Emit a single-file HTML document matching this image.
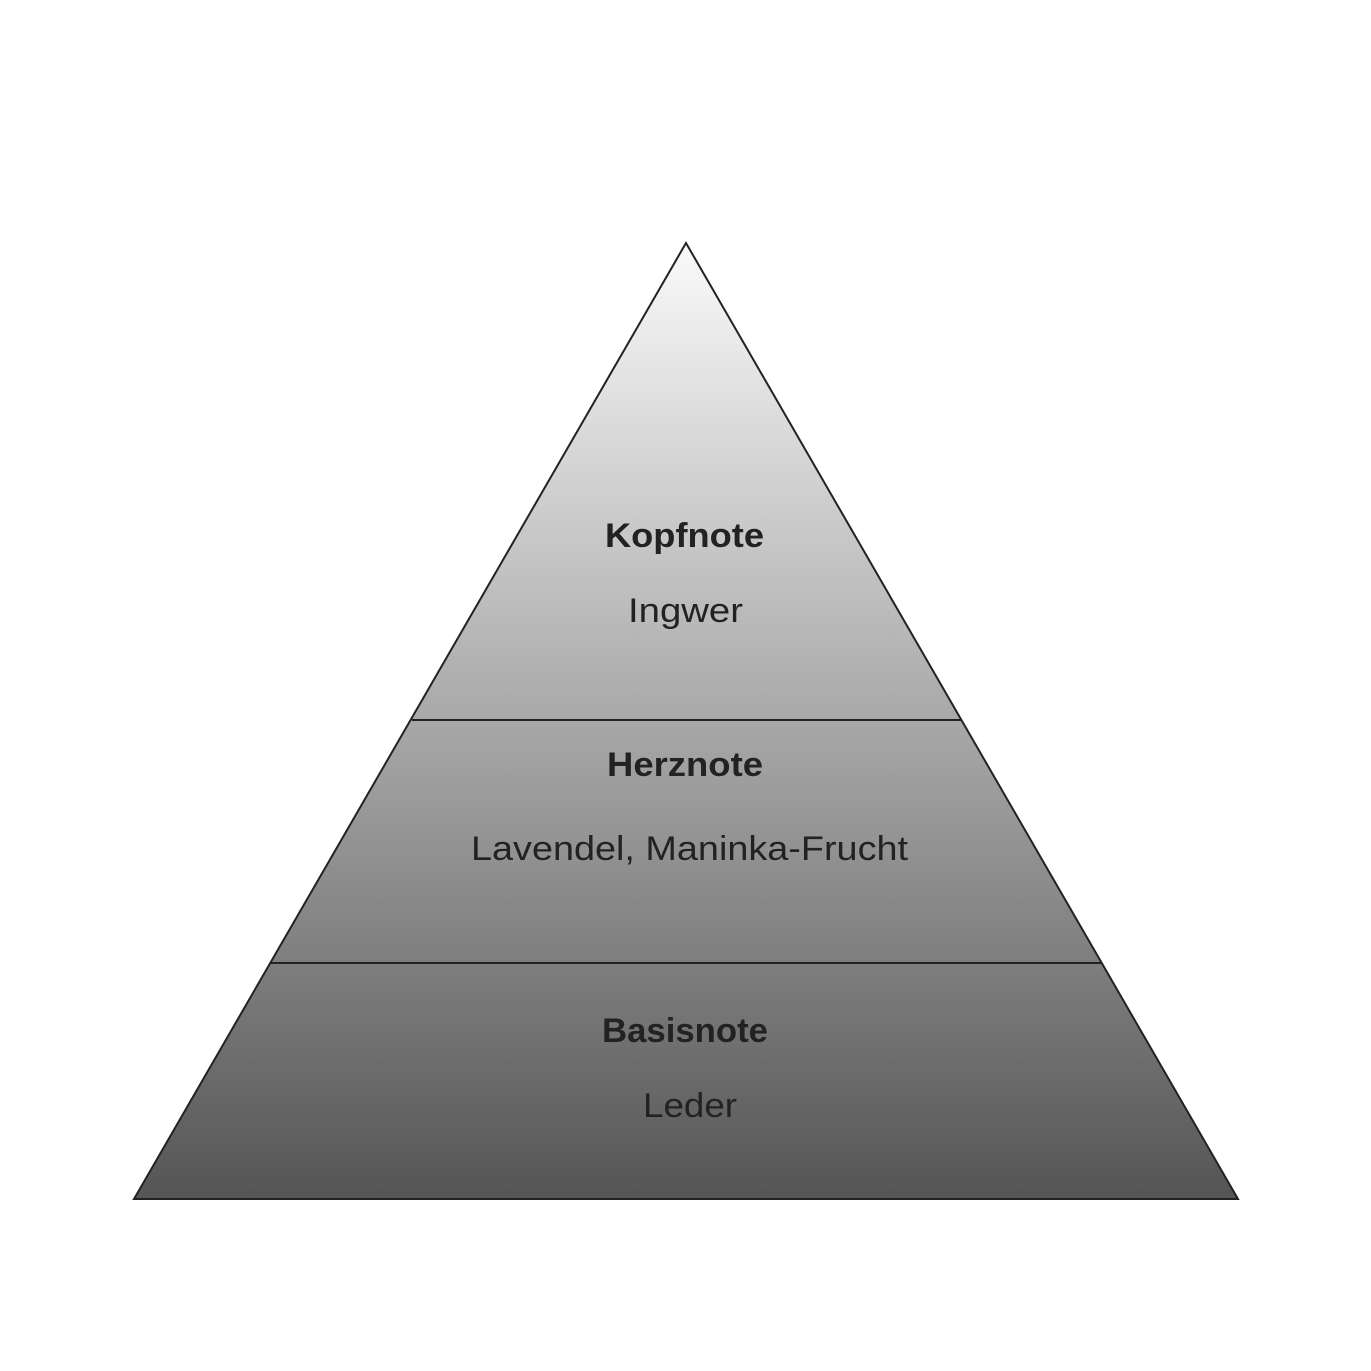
<!DOCTYPE html>
<html><head><meta charset="utf-8"><style>
html,body{margin:0;padding:0;background:#fff;}
svg{display:block;}
text{font-family:"Liberation Sans",sans-serif;fill:#222;}
</style></head><body>
<svg width="1371" height="1371" viewBox="0 0 1371 1371">
<defs>
<linearGradient id="g" x1="0" y1="243" x2="0" y2="1199" gradientUnits="userSpaceOnUse">
<stop offset="0" stop-color="#fafafa"/>
<stop offset="0.5" stop-color="#a8a8a8"/>
<stop offset="1" stop-color="#555"/>
</linearGradient>
</defs>
<polygon points="686,243 1238,1199 134,1199" fill="url(#g)" stroke="#222" stroke-width="2"/>
<line x1="412" y1="720" x2="961" y2="720" stroke="#222" stroke-width="2"/>
<line x1="271" y1="963" x2="1101" y2="963" stroke="#222" stroke-width="2"/>
<g font-size="34">
<text x="605" y="547" font-weight="bold" textLength="159" lengthAdjust="spacingAndGlyphs">Kopfnote</text>
<text x="628" y="622" textLength="115" lengthAdjust="spacingAndGlyphs">Ingwer</text>
<text x="607" y="776" font-weight="bold" textLength="156" lengthAdjust="spacingAndGlyphs">Herznote</text>
<text x="471" y="860" textLength="437" lengthAdjust="spacingAndGlyphs">Lavendel, Maninka-Frucht</text>
<text x="602" y="1042" font-weight="bold" textLength="166" lengthAdjust="spacingAndGlyphs">Basisnote</text>
<text x="643" y="1117" textLength="94" lengthAdjust="spacingAndGlyphs">Leder</text>
</g>
</svg>
</body></html>
